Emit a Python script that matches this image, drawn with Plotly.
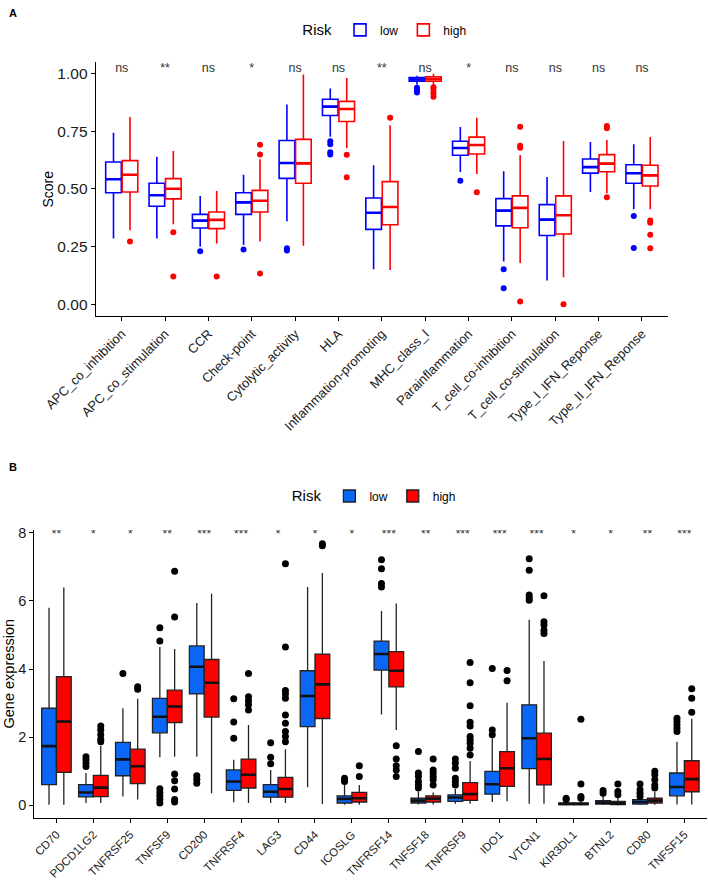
import plotly.graph_objects as go

# ---------------- Panel A data ----------------
cats_a = ["APC_co_inhibition", "APC_co_stimulation", "CCR", "Check-point", "Cytolytic_activity",
          "HLA", "Inflammation-promoting", "MHC_class_I", "Parainflammation", "T_cell_co-inhibition",
          "T_cell_co-stimulation", "Type_I_IFN_Reponse", "Type_II_IFN_Reponse"]
sig_a = ["ns", "**", "ns", "*", "ns", "ns", "**", "ns", "*", "ns", "ns", "ns", "ns"]

a_low_lo  = [0.285, 0.285, 0.250, 0.257, 0.360, 0.727, 0.152, 0.952, 0.574, 0.185, 0.103, 0.487, 0.412]
a_low_q1  = [0.484, 0.425, 0.331, 0.390, 0.546, 0.819, 0.325, 0.967, 0.646, 0.340, 0.298, 0.569, 0.525]
a_low_med = [0.542, 0.473, 0.363, 0.442, 0.613, 0.857, 0.397, 0.975, 0.678, 0.406, 0.367, 0.595, 0.568]
a_low_q3  = [0.617, 0.525, 0.390, 0.484, 0.710, 0.889, 0.461, 0.983, 0.707, 0.458, 0.432, 0.630, 0.605]
a_low_hi  = [0.744, 0.640, 0.470, 0.562, 0.866, 0.936, 0.603, 0.991, 0.769, 0.577, 0.552, 0.704, 0.694]
a_low_out = [[], [], [0.230], [0.238], [0.243, 0.233], [0.707, 0.694, 0.659, 0.650], [],
             [0.939, 0.929, 0.918], [0.536], [0.152, 0.069], [], [], [0.383, 0.244]]

a_high_lo  = [0.321, 0.347, 0.264, 0.272, 0.254, 0.678, 0.149, 0.951, 0.565, 0.179, 0.117, 0.481, 0.412]
a_high_q1  = [0.487, 0.457, 0.328, 0.400, 0.525, 0.793, 0.345, 0.968, 0.652, 0.332, 0.305, 0.575, 0.513]
a_high_med = [0.562, 0.501, 0.366, 0.449, 0.611, 0.847, 0.422, 0.978, 0.691, 0.418, 0.386, 0.610, 0.559]
a_high_q3  = [0.623, 0.545, 0.400, 0.494, 0.715, 0.880, 0.532, 0.987, 0.725, 0.470, 0.470, 0.649, 0.603]
a_high_hi  = [0.812, 0.665, 0.491, 0.629, 0.996, 0.981, 0.776, 1.000, 0.809, 0.647, 0.708, 0.712, 0.725]
a_high_out = [[0.272], [0.312, 0.120], [0.121], [0.692, 0.650, 0.134], [], [0.649, 0.551], [0.809],
              [0.941, 0.929, 0.915, 0.900], [0.486], [0.770, 0.688, 0.679, 0.012], [0.0],
              [0.773, 0.763, 0.464], [0.363, 0.354, 0.302, 0.243]]

# ---------------- Panel B data ----------------
cats_b = ["CD70", "PDCD1LG2", "TNFRSF25", "TNFSF9", "CD200", "TNFRSF4", "LAG3", "CD44", "ICOSLG",
          "TNFRSF14", "TNFSF18", "TNFRSF9", "IDO1", "VTCN1", "KIR3DL1", "BTNL2", "CD80", "TNFSF15"]
sig_b = ["**", "*", "*", "**", "***", "***", "*", "*", "*", "***", "**", "***", "***", "***",
         "*", "*", "**", "***"]

b_low_lo  = [0.02, 0.07, 0.26, 1.41, 1.43, 0.09, 0.07, 0.53, 0.02, 2.67, 0.03, 0.05, 0.10, 0.05, 0.00, 0.01, 0.01, 0.03]
b_low_q1  = [0.61, 0.25, 0.87, 2.13, 3.27, 0.44, 0.24, 2.31, 0.07, 3.97, 0.07, 0.12, 0.33, 1.08, 0.02, 0.04, 0.04, 0.28]
b_low_med = [1.74, 0.38, 1.35, 2.60, 4.07, 0.70, 0.40, 3.21, 0.19, 4.44, 0.14, 0.23, 0.62, 1.97, 0.04, 0.08, 0.10, 0.54]
b_low_q3  = [2.85, 0.61, 1.85, 3.14, 4.68, 1.04, 0.61, 3.95, 0.28, 4.82, 0.21, 0.31, 1.00, 2.95, 0.07, 0.14, 0.17, 0.95]
b_low_hi  = [5.80, 0.95, 2.85, 4.65, 5.94, 1.34, 1.04, 6.41, 0.60, 5.70, 0.41, 0.48, 1.97, 5.45, 0.15, 0.28, 0.35, 1.87]
b_low_out = [[], [1.43, 1.34, 1.24, 1.14], [3.87], [5.21, 4.82, 0.49, 0.38, 0.28, 0.17, 0.07],
             [0.87, 0.77, 0.65], [3.13, 2.45, 1.97], [1.84, 1.41, 1.22], [], [0.80, 0.70],
             [7.21, 6.94, 6.51, 6.41], [1.58, 0.95, 0.85, 0.70, 0.60, 0.51],
             [1.36, 1.24, 1.09, 0.80, 0.70, 0.60], [4.02, 2.21, 2.07], [7.24, 6.90, 6.17, 6.09, 6.02],
             [0.21, 0.17], [0.44, 0.36], [0.63, 0.46, 0.36, 0.26], [2.56, 2.46, 2.36, 2.26, 2.17]]

b_high_lo  = [0.02, 0.07, 0.17, 1.43, 0.36, 0.07, 0.07, 0.04, 0.02, 2.21, 0.03, 0.05, 0.12, 0.05, 0.00, 0.00, 0.02, 0.03]
b_high_q1  = [0.97, 0.26, 0.64, 2.43, 2.59, 0.51, 0.24, 2.55, 0.10, 3.48, 0.10, 0.15, 0.56, 0.60, 0.02, 0.02, 0.07, 0.40]
b_high_med = [2.46, 0.52, 1.15, 2.90, 3.60, 0.90, 0.48, 3.55, 0.21, 3.95, 0.20, 0.33, 1.09, 1.36, 0.04, 0.06, 0.14, 0.77]
b_high_q3  = [3.78, 0.88, 1.65, 3.38, 4.28, 1.36, 0.82, 4.44, 0.38, 4.51, 0.28, 0.67, 1.58, 2.12, 0.07, 0.12, 0.21, 1.31]
b_high_hi  = [6.39, 1.75, 3.13, 4.59, 6.21, 2.36, 1.65, 6.82, 0.60, 5.92, 0.38, 1.30, 3.01, 4.24, 0.15, 0.25, 0.40, 2.54]
b_high_out = [[], [2.33, 2.21, 2.07, 1.94, 1.87], [3.48, 3.41],
              [6.87, 5.53, 0.92, 0.72, 0.48, 0.17, 0.10], [], [3.87, 3.19, 3.07, 2.95, 2.80],
              [7.09, 4.65, 3.37, 3.27, 3.14, 2.65, 2.41, 2.17, 2.02, 1.87], [7.68, 7.62],
              [1.16, 0.85], [1.75, 1.36, 1.16, 1.04, 0.85], [1.36, 1.04, 0.95, 0.85, 0.75, 0.60],
              [4.19, 3.60, 2.92, 2.44, 2.33, 2.02, 1.92, 1.82, 1.68, 1.48], [3.96, 3.66],
              [6.15, 5.39, 5.29, 5.14, 5.04], [2.53, 0.63, 0.26, 0.21], [0.63, 0.41, 0.31],
              [1.00, 0.90, 0.75, 0.60, 0.51], [3.42, 3.14, 2.73]]

FONT = "Liberation Sans, Arial, sans-serif"
TXT = "#1a1a1a"
fig = go.Figure()


def add_group(xaxis, yaxis, legend, idx_off, width, name, lo, q1, med, q3, hi, outs,
              line_col, fill_col, med_col, out_col, lw, mlw, msize):
    n = len(med)
    xs = [i + idx_off for i in range(n)]
    fig.add_trace(go.Box(
        x=xs, lowerfence=lo, q1=q1, median=med, q3=q3, upperfence=hi,
        width=width, name=name, boxpoints=False, whiskerwidth=0,
        line=dict(color=line_col, width=lw), fillcolor=fill_col,
        xaxis=xaxis, yaxis=yaxis, legend=legend, showlegend=True, hoverinfo="skip"))
    # thicker median segments (ggplot fatten)
    mx, my = [], []
    for x, m in zip(xs, med):
        mx += [x - width / 2, x + width / 2, None]
        my += [m, m, None]
    fig.add_trace(go.Scatter(x=mx, y=my, mode="lines", line=dict(color=med_col, width=mlw),
                             xaxis=xaxis, yaxis=yaxis, showlegend=False, hoverinfo="skip"))
    ox, oy = [], []
    for x, o in zip(xs, outs):
        ox += [x] * len(o)
        oy += o
    fig.add_trace(go.Scatter(x=ox, y=oy, mode="markers",
                             marker=dict(color=out_col, size=msize, line=dict(width=0)),
                             xaxis=xaxis, yaxis=yaxis, showlegend=False, hoverinfo="skip"))


BLUE_A, RED_A = "#0000FF", "#FF0000"
add_group("x", "y", "legend", -0.19, 0.36, "low", a_low_lo, a_low_q1, a_low_med, a_low_q3,
          a_low_hi, a_low_out, BLUE_A, "rgba(255,255,255,0)", BLUE_A, BLUE_A, 1.6, 2.6, 6)
add_group("x", "y", "legend", 0.19, 0.36, "high", a_high_lo, a_high_q1, a_high_med, a_high_q3,
          a_high_hi, a_high_out, RED_A, "rgba(255,255,255,0)", RED_A, RED_A, 1.6, 2.6, 6)

BLUE_B, RED_B = "#0A66F5", "#FF0000"
add_group("x2", "y2", "legend2", -0.2, 0.4, "low", b_low_lo, b_low_q1, b_low_med, b_low_q3,
          b_low_hi, b_low_out, "#222222", BLUE_B, "#111111", "#000000", 1.3, 2.6, 7)
add_group("x2", "y2", "legend2", 0.2, 0.4, "high", b_high_lo, b_high_q1, b_high_med, b_high_q3,
          b_high_hi, b_high_out, "#222222", RED_B, "#111111", "#000000", 1.3, 2.6, 7)

# significance labels
fig.add_trace(go.Scatter(x=list(range(len(cats_a))), y=[1.02] * len(cats_a), text=sig_a,
                         mode="text", textfont=dict(family=FONT, size=12.5, color="#333333"),
                         xaxis="x", yaxis="y", showlegend=False, hoverinfo="skip"))
fig.add_trace(go.Scatter(x=list(range(len(cats_b))), y=[7.92] * len(cats_b), text=sig_b,
                         mode="text", textfont=dict(family=FONT, size=12, color="#333333"),
                         xaxis="x2", yaxis="y2", showlegend=False, hoverinfo="skip"))

axis_common = dict(showline=True, linecolor="black", linewidth=1.2, ticks="outside",
                   ticklen=4, tickcolor="black", tickwidth=1, showgrid=False, zeroline=False,
                   automargin=False)

fig.update_layout(
    width=708, height=893, margin=dict(l=0, r=0, t=0, b=0),
    paper_bgcolor="white", plot_bgcolor="white",
    font=dict(family=FONT, color="black"),
    xaxis=dict(**axis_common, domain=[0.1352, 0.9435], anchor="y",
               range=[-0.6, len(cats_a) - 0.4], tickvals=list(range(len(cats_a))),
               ticktext=cats_a, tickangle=-45,
               tickfont=dict(family=FONT, size=13, color=TXT)),
    yaxis=dict(**axis_common, domain=[0.6461, 0.9309], anchor="x", range=[-0.051, 1.052],
               tickvals=[0, 0.25, 0.5, 0.75, 1.0], ticktext=["0.00", "0.25", "0.50", "0.75", "1.00"],
               tickfont=dict(family=FONT, size=15.5, color=TXT)),
    xaxis2=dict(**axis_common, domain=[0.0484, 0.9979], anchor="y2",
                range=[-0.6, len(cats_b) - 0.4], tickvals=list(range(len(cats_b))),
                ticktext=cats_b, tickangle=-45,
                tickfont=dict(family=FONT, size=11.5, color=TXT)),
    yaxis2=dict(**axis_common, domain=[0.0836, 0.4065], anchor="x2", range=[-0.38, 8.08],
                tickvals=[0, 2, 4, 6, 8],
                tickfont=dict(family=FONT, size=14.5, color=TXT)),
    legend=dict(orientation="h", x=0.545, y=0.966, xanchor="center", yanchor="middle",
                title=dict(text="Risk", font=dict(size=15, family=FONT)),
                font=dict(size=12, family=FONT), bgcolor="rgba(0,0,0,0)", itemwidth=30),
    legend2=dict(orientation="h", x=0.53, y=0.444, xanchor="center", yanchor="middle",
                 title=dict(text="Risk", font=dict(size=15, family=FONT)),
                 font=dict(size=12, family=FONT), bgcolor="rgba(0,0,0,0)", itemwidth=30),
    showlegend=True,
)

# axis titles and panel tags
fig.add_annotation(text="Score", x=47.5 / 708, y=1 - 189 / 893, xref="paper", yref="paper",
                   textangle=-90, showarrow=False, font=dict(size=14, family=FONT),
                   xanchor="center", yanchor="middle")
fig.add_annotation(text="Gene expression", x=8.5 / 708, y=1 - 674 / 893, xref="paper", yref="paper",
                   textangle=-90, showarrow=False, font=dict(size=14.5, family=FONT),
                   xanchor="center", yanchor="middle")
fig.add_annotation(text="<b>A</b>", x=13 / 708, y=1 - 13 / 893, xref="paper", yref="paper",
                   showarrow=False, font=dict(size=11, family=FONT), xanchor="center", yanchor="middle")
fig.add_annotation(text="<b>B</b>", x=13 / 708, y=1 - 467 / 893, xref="paper", yref="paper",
                   showarrow=False, font=dict(size=11, family=FONT), xanchor="center", yanchor="middle")

fig.write_html("out.html", config={"displayModeBar": False},
               post_script="document.body.style.margin='0px';document.body.style.overflow='hidden';")
